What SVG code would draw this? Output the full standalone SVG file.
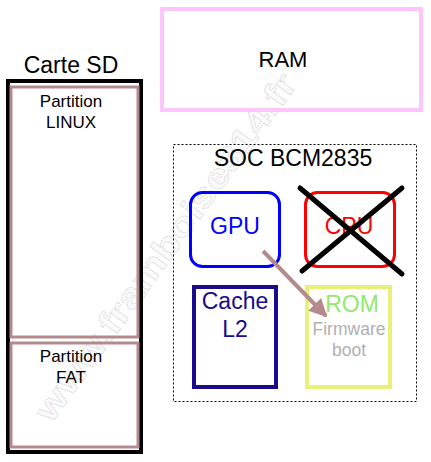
<svg xmlns="http://www.w3.org/2000/svg" width="431" height="462" viewBox="0 0 431 462">
<style>
text{font-family:"Liberation Sans",Arial,sans-serif;text-anchor:middle}
.big{font-size:23px}
.mid{font-size:17px}
.part{fill:none;stroke:#b48a8e;stroke-width:3}
.wm{font-size:34px;font-weight:bold;fill:#fafafa;stroke:#d0d0d0;stroke-width:0.9;stroke-dasharray:1 1}
</style>
<defs>
<marker id="ah" viewBox="0 0 10 10" refX="9" refY="5" markerWidth="5" markerHeight="4.5" orient="auto" markerUnits="strokeWidth">
<path d="M0,0 L10,5 L0,10 z" fill="#b48a8e"/>
</marker>
</defs>
<rect width="431" height="462" fill="#fff"/>
<g id="watermark" transform="translate(165,247) rotate(-54)">
<text class="wm" x="0" y="12" textLength="420" lengthAdjust="spacingAndGlyphs">www.framboise314.fr</text>
</g>
<g id="ram">
<rect x="162" y="9" width="259" height="101" fill="none" stroke="#fcc6fc" stroke-width="4"/>
<text class="big" x="283" y="67" style="font-size:22px">RAM</text>
</g>
<g id="sdcard">
<text class="big" x="71" y="73">Carte SD</text>
<rect x="8" y="81" width="133" height="371" fill="none" stroke="#000" stroke-width="4"/>
</g>
<g id="linux">
<rect class="part" x="11" y="87" width="127" height="250"/>
<text class="mid" x="71" y="107">Partition</text>
<text class="mid" x="71" y="128">LINUX</text>
</g>
<g id="fat">
<rect class="part" x="11" y="343" width="127" height="104"/>
<text class="mid" x="71" y="362">Partition</text>
<text class="mid" x="71" y="383">FAT</text>
</g>
<g id="soc">
<rect x="173.5" y="144.5" width="243" height="257" fill="none" stroke="#000" stroke-width="1" stroke-dasharray="2 2"/>
<text class="big" x="293" y="166">SOC BCM2835</text>
</g>
<g id="gpu">
<rect x="190.5" y="192.5" width="89" height="74" rx="12" fill="none" stroke="#0000ff" stroke-width="3"/>
<text class="big" x="235" y="234" fill="#0000ff">GPU</text>
</g>
<g id="cpu">
<rect x="305.5" y="192.5" width="89" height="74" rx="12" fill="none" stroke="#ff0000" stroke-width="3"/>
<text class="big" x="349" y="234" fill="#ff0000">CPU</text>
<line x1="300" y1="188" x2="402" y2="274" stroke="#000" stroke-width="5" stroke-linecap="round"/>
<line x1="402" y1="188" x2="302" y2="271" stroke="#000" stroke-width="5" stroke-linecap="round"/>
</g>
<g id="cache">
<rect x="194" y="287" width="82" height="100" fill="none" stroke="#1a0a8c" stroke-width="4"/>
<text class="big" x="235" y="309" fill="#1a0a8c">Cache</text>
<text class="big" x="235" y="337" fill="#1a0a8c">L2</text>
</g>
<g id="rom">
<rect x="307" y="287" width="83" height="100" fill="none" stroke="#e8f07a" stroke-width="4"/>
<text class="big" x="352" y="312" fill="#90e870">ROM</text>
<text x="349" y="335" fill="#b0b0b0" style="font-size:17.5px">Firmware</text>
<text x="349" y="356" fill="#b0b0b0" style="font-size:17.5px">boot</text>
</g>
<g id="connectors">
<line x1="263" y1="251" x2="326" y2="316" stroke="#b48a8e" stroke-width="4" marker-end="url(#ah)"/>
</g>
</svg>
